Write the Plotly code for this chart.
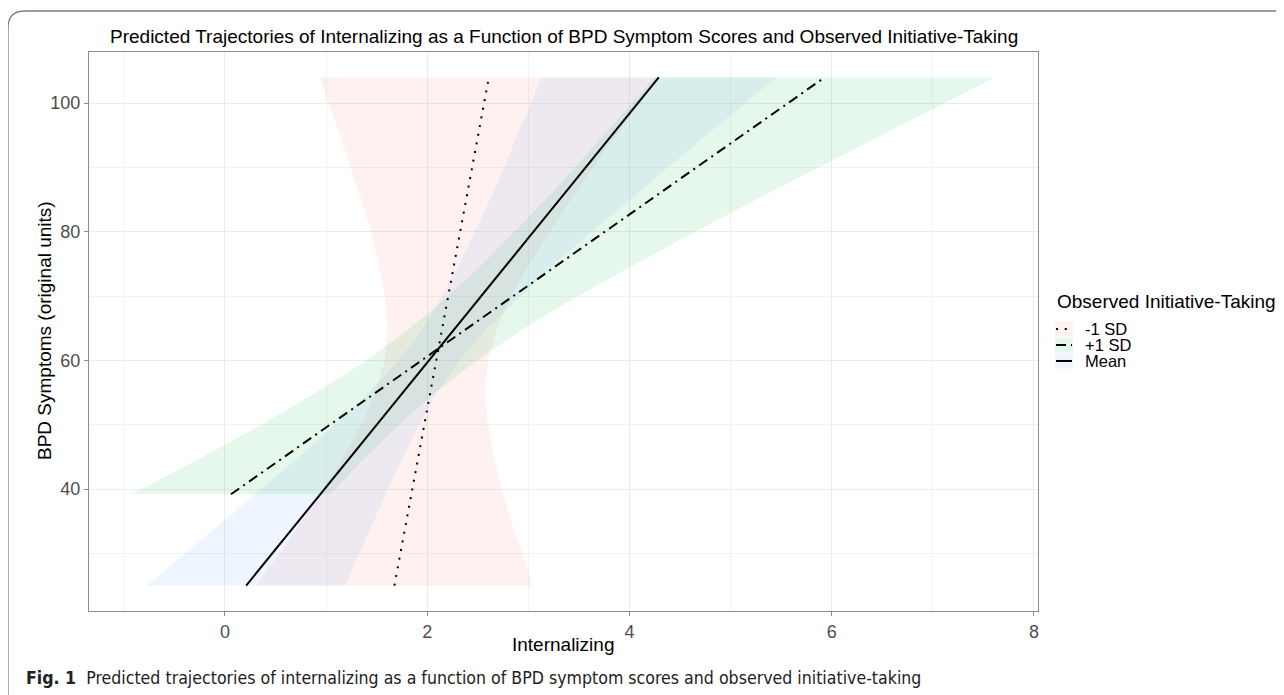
import plotly.graph_objects as go

# ---------------- data ----------------
groups = ["-1 SD", "+1 SD", "Mean"]
fill_colors = ["rgba(248,118,109,0.10)", "rgba(0,186,56,0.10)", "rgba(97,156,255,0.10)"]
line_dash = ["2px,6.8px", "10px,5px,2px,5px", "solid"]

# predicted lines (BPD symptoms on y, internalizing on x): end points
minus_y = [25, 104]
minus_x = [1.676, 2.61]
plus_y = [39.2, 104]
plus_x = [0.06, 5.93]
mean_y = [25, 104]
mean_x = [0.21, 4.29]

# confidence ribbons: horizontal extent at each BPD level
band_y = [25, 30, 35, 40, 45, 50, 55, 60, 65, 70, 75, 80, 85, 90, 95, 100, 104]
minus_lo = [0.31, 0.54, 0.76, 0.97, 1.17, 1.35, 1.49, 1.58, 1.61, 1.58, 1.52, 1.44, 1.35, 1.24, 1.14, 1.03, 0.94]
minus_hi = [3.04, 2.94, 2.83, 2.74, 2.66, 2.60, 2.57, 2.60, 2.69, 2.83, 3.01, 3.21, 3.42, 3.64, 3.87, 4.10, 4.28]
mean_lo = [-0.77, -0.39, -0.01, 0.36, 0.73, 1.09, 1.42, 1.72, 1.96, 2.15, 2.32, 2.47, 2.62, 2.76, 2.89, 3.03, 3.13]
mean_hi = [1.19, 1.33, 1.47, 1.61, 1.76, 1.92, 2.10, 2.32, 2.59, 2.92, 3.26, 3.63, 4.00, 4.38, 4.76, 5.14, 5.45]
plus_band_y = [39.2, 45, 50, 55, 60, 65, 70, 75, 80, 85, 90, 95, 100, 104]
plus_lo = [-0.92, -0.22, 0.36, 0.90, 1.40, 1.83, 2.21, 2.55, 2.86, 3.17, 3.46, 3.74, 4.02, 4.25]
plus_hi = [1.04, 1.39, 1.72, 2.08, 2.49, 2.96, 3.49, 4.06, 4.65, 5.25, 5.87, 6.49, 7.11, 7.61]

x_ticks = [0, 2, 4, 6, 8]
y_ticks = [40, 60, 80, 100]

title_text = "Predicted Trajectories of Internalizing as a Function of BPD Symptom Scores and Observed Initiative-Taking"
x_title = "Internalizing"
y_title = "BPD Symptoms (original units)"
legend_title = "Observed Initiative-Taking"
caption = "<b>Fig. 1</b>  Predicted trajectories of internalizing as a function of BPD symptom scores and observed initiative-taking"

# ---------------- layout geometry (screen pixels) ----------------
OFF = 8                      # page body margin offset
W, H = 1284 - OFF, 695 - OFF
L, R, T, B = 89, 1038, 52, 611   # panel edges on screen


def px(xs):
    return (xs - L) / (R - L)


def py(ys):
    return (B - ys) / (B - T)


fig = go.Figure()

bands = [
    (band_y, minus_lo, minus_hi),
    (plus_band_y, plus_lo, plus_hi),
    (band_y, mean_lo, mean_hi),
]
for (yy, lo, hi), fc in zip(bands, fill_colors):
    fig.add_trace(go.Scatter(
        x=list(lo) + list(hi)[::-1],
        y=list(yy) + list(yy)[::-1],
        mode="lines", fill="toself", fillcolor=fc,
        line=dict(width=0, color="rgba(0,0,0,0)"),
        hoverinfo="skip", showlegend=False))

lines = [(minus_x, minus_y), (plus_x, plus_y), (mean_x, mean_y)]
for (xx, yy), dsh, name in zip(lines, line_dash, groups):
    fig.add_trace(go.Scatter(
        x=xx, y=yy, mode="lines", name=name,
        line=dict(color="black", width=2, dash=dsh),
        showlegend=False))

font_main = "Liberation Sans, Arial, sans-serif"
axis_common = dict(
    showline=True, mirror=True, linecolor="#8C8C8C", linewidth=1,
    ticks="outside", ticklen=4, tickcolor="#8C8C8C", tickwidth=1,
    showgrid=True, gridcolor="#EBEBEB", gridwidth=1,
    zeroline=False,
    tickfont=dict(size=18, color="#4D4D4D", family=font_main),
)

fig.update_xaxes(range=[-1.344, 8.04], tickvals=x_ticks,
                 minor=dict(dtick=1, tick0=1, showgrid=True, gridcolor="#F2F2F2", gridwidth=0.6, ticks=""),
                 **axis_common)
fig.update_yaxes(range=[21.05, 107.95], tickvals=y_ticks,
                 minor=dict(dtick=10, tick0=30, showgrid=True, gridcolor="#F2F2F2", gridwidth=0.6, ticks=""),
                 **axis_common)

ann = []
ann.append(dict(text=title_text, x=px(564), y=py(36), xref="paper", yref="paper",
                xanchor="center", yanchor="middle", showarrow=False,
                font=dict(size=19, color="black", family=font_main)))
ann.append(dict(text=x_title, x=px(563), y=py(644), xref="paper", yref="paper",
                xanchor="center", yanchor="middle", showarrow=False,
                font=dict(size=19, color="black", family=font_main)))
ann.append(dict(text=y_title, x=px(44), y=py(331), xref="paper", yref="paper",
                xanchor="center", yanchor="middle", showarrow=False, textangle=-90,
                font=dict(size=19, color="black", family=font_main)))
ann.append(dict(text=caption, x=px(24), y=py(678), xref="paper", yref="paper",
                xanchor="left", yanchor="middle", showarrow=False,
                font=dict(size=17.6, color="#222222",
                          family="Liberation Sans Narrow, DejaVu Sans Condensed, Roboto Condensed, Arial Narrow, sans-serif")))
ann.append(dict(text=legend_title, x=px(1055), y=py(301), xref="paper", yref="paper",
                xanchor="left", yanchor="middle", showarrow=False,
                font=dict(size=19, color="black", family=font_main)))

shapes = []
item_y = [329, 345, 361]
for g, fc, dsh, yc in zip(groups, fill_colors, line_dash, item_y):
    ann.append(dict(text=g, x=px(1083), y=py(yc), xref="paper", yref="paper",
                    xanchor="left", yanchor="middle", showarrow=False,
                    font=dict(size=16.5, color="black", family=font_main)))
    shapes.append(dict(type="rect", xref="paper", yref="paper",
                       x0=px(1055), x1=px(1073), y0=py(yc + 7.5), y1=py(yc - 7.5),
                       fillcolor=fc, line=dict(width=0)))
    shapes.append(dict(type="line", xref="paper", yref="paper",
                       x0=px(1056), x1=px(1072), y0=py(yc), y1=py(yc),
                       line=dict(color="black", width=2, dash=dsh)))

# outer rounded frame (top and left edges)
xl, yt, r = 8, 11, 17
path = (f"M {px(xl)} {py(700)} L {px(xl)} {py(yt + r)} "
        f"Q {px(xl)} {py(yt)} {px(xl + r)} {py(yt)} L {px(1290)} {py(yt)}")
shapes.append(dict(type="path", xref="paper", yref="paper", path=path,
                   line=dict(color="#7F7F7F", width=1.3)))

fig.update_layout(
    width=W, height=H,
    margin=dict(l=L - OFF, r=(W + OFF) - R, t=T - OFF, b=(H + OFF) - B, pad=0),
    plot_bgcolor="white", paper_bgcolor="white",
    showlegend=False,
    annotations=ann, shapes=shapes,
    font=dict(family=font_main),
)

fig.write_html("out.html")
